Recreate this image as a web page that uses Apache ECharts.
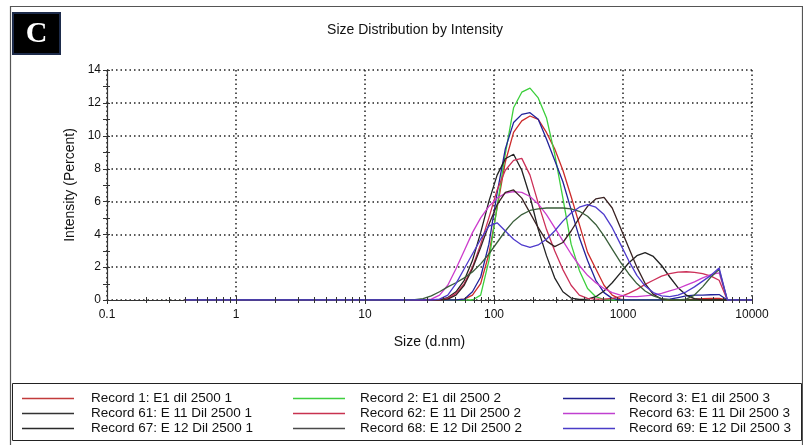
<!DOCTYPE html>
<html><head><meta charset="utf-8">
<script src="https://cdn.jsdelivr.net/npm/echarts@6/dist/echarts.min.js"></script>
<style>html,body{margin:0;padding:0;background:#fff}#c{width:803px;height:445px}</style>
</head><body><div id="c"></div>
<script>
// Malvern size bins (d.nm)
const sizes = [
  0.4, 0.4632, 0.5365, 0.6213, 0.7195, 0.8332, 0.9649, 1.117, 1.294, 1.499,
  1.736, 2.010, 2.328, 2.696, 3.122, 3.615, 4.187, 4.849, 5.615, 6.503,
  7.531, 8.721, 10.10, 11.70, 13.54, 15.69, 18.17, 21.04, 24.36, 28.21,
  32.67, 37.84, 43.82, 50.75, 58.77, 68.06, 78.82, 91.28, 105.7, 122.4,
  141.8, 164.2, 190.1, 220.2, 255.0, 295.3, 342.0, 396.1, 458.7, 531.2,
  615.1, 712.4, 825.0, 955.4, 1106, 1281, 1484, 1718, 1990, 2305,
  2669, 3091, 3580, 4145, 4801, 5560, 6439, 7456, 8635, 10000
];
const rec1 = [
  0,0,0,0,0,0,0,0,0,0, 0,0,0,0,0,0,0,0,0,0, 0,0,0,0,0,0,0,0,0,0,
  0,0,0,0,0.05,0.3,1.0,2.8,5.6,8.4,
  10.2,10.9,11.2,11.0,10.2,9.2,7.9,6.3,4.6,2.9,
  1.9,0.9,0.3,0.05,0,0,0,0,0,0,
  0,0.02,0.05,0.08,0.1,0.1,0,0,0,0
];
const rec2 = [
  0,0,0,0,0,0,0,0,0,0, 0,0,0,0,0,0,0,0,0,0, 0,0,0,0,0,0,0,0,0,0,
  0,0,0,0,0,0,0.3,2.4,5.7,8.9,
  11.7,12.65,12.9,12.3,11.1,8.9,6.2,3.4,1.8,0.7,
  0.2,0.03,0,0,0,0,0,0,0,0,
  0,0,0,0,0,0,0,0,0,0
];
const rec3 = [
  0,0,0,0,0,0,0,0,0,0, 0,0,0,0,0,0,0,0,0,0, 0,0,0,0,0,0,0,0,0,0,
  0,0,0,0,0.05,0.5,1.4,3.4,6.5,9.2,
  10.8,11.3,11.4,11.0,9.8,8.5,7.2,5.5,3.8,2.4,
  1.2,0.45,0.1,0,0,0,0,0,0,0.05,
  0.15,0.25,0.3,0.3,0.32,0.33,0,0,0,0
];
const rec61 = [
  0,0,0,0,0,0,0,0,0,0, 0,0,0,0,0,0,0,0,0,0, 0,0,0,0,0,0,0,0,0,0,
  0,0.02,0.15,0.5,1.2,2.4,4.1,6.0,7.6,8.6,
  8.87,7.9,6.3,4.3,2.7,1.35,0.5,0.12,0.03,0.05,
  0.2,0.55,1.05,1.65,2.25,2.7,2.88,2.65,2.1,1.4,
  0.75,0.3,0.08,0,0,0,0,0,0,0
];
const rec62 = [
  0,0,0,0,0,0,0,0,0,0, 0,0,0,0,0,0,0,0,0,0, 0,0,0,0,0,0,0,0,0,0,
  0,0,0.1,0.4,1.0,2.0,3.4,5.0,6.7,7.9,
  8.5,8.62,7.6,5.9,4.3,3.0,1.85,0.9,0.3,0.1,
  0.05,0.05,0.1,0.2,0.4,0.65,0.95,1.2,1.45,1.6,
  1.7,1.72,1.68,1.6,1.45,1.2,0,0,0,0
];
const rec63 = [
  0,0,0,0,0,0,0,0,0,0, 0,0,0,0,0,0,0,0,0,0, 0,0,0,0,0,0,0,0,0,0,
  0.05,0.3,0.9,1.9,3.0,4.1,5.0,5.7,6.2,6.5,
  6.6,6.55,6.3,5.85,5.2,4.4,3.6,2.8,2.1,1.5,
  1.05,0.7,0.45,0.3,0.2,0.2,0.25,0.3,0.4,0.55,
  0.7,0.9,1.1,1.35,1.55,1.65,0,0,0,0
];
const rec67 = [
  0,0,0,0,0,0,0,0,0,0, 0,0,0,0,0,0,0,0,0,0, 0,0,0,0,0,0,0,0,0,0,
  0,0,0.05,0.3,0.9,1.9,3.2,4.6,5.8,6.55,
  6.7,6.2,5.3,4.4,3.6,3.25,3.5,4.2,5.0,5.7,
  6.15,6.25,5.6,4.4,3.2,2.0,1.0,0.35,0.05,0,
  0,0,0,0,0,0,0,0,0,0
];
const rec68 = [
  0,0,0,0,0,0,0,0,0,0, 0,0,0,0,0,0,0,0,0,0, 0,0,0,0,0,0,0,0,0.02,0.08,
  0.25,0.5,0.8,1.05,1.35,1.7,2.2,2.8,3.5,4.2,
  4.8,5.2,5.45,5.55,5.6,5.6,5.6,5.55,5.4,5.1,
  4.6,3.9,3.1,2.3,1.6,1.0,0.55,0.25,0.08,0.02,
  0,0.05,0.3,0.8,1.4,1.85,0,0,0,0
];
const rec69 = [
  0,0,0,0,0,0,0,0,0,0, 0,0,0,0,0,0,0,0,0,0, 0,0,0,0,0,0,0,0,0,0,
  0,0.05,0.3,1.0,1.9,2.8,3.7,4.5,4.7,4.2,
  3.7,3.35,3.2,3.35,3.7,4.2,4.8,5.3,5.65,5.8,
  5.65,5.2,4.4,3.4,2.4,1.5,0.85,0.45,0.25,0.2,
  0.3,0.5,0.8,1.15,1.5,1.95,0,0,0,0
];
const seriesNames = [
  'Record 1: E1 dil 2500 1', 'Record 2: E1 dil 2500 2', 'Record 3: E1 dil 2500 3',
  'Record 61: E 11 Dil 2500 1', 'Record 62: E 11 Dil 2500 2', 'Record 63: E 11 Dil 2500 3',
  'Record 67: E 12 Dil 2500 1', 'Record 68: E 12 Dil 2500 2', 'Record 69: E 12 Dil 2500 3'
];
const seriesValues = [rec1, rec2, rec3, rec61, rec62, rec63, rec67, rec68, rec69];
const seriesColors = ['#cc2a2a', '#3ccf3c', '#22229a', '#222222', '#cc3058', '#cc3ccc', '#3a2222', '#3a5e3a', '#4e3acc'];
const legendColors = ['#c23b3b', '#3fcf3f', '#202090', '#333333', '#c8324f', '#c040d0', '#2a2a2a', '#4a4a4a', '#4a3cc8'];
const xDecades = [0.1, 1, 10, 100, 1000, 10000];
const yMin = 0, yMax = 14, yStep = 2;
const titleText = 'Size Distribution by Intensity';
const xName = 'Size (d.nm)';
const yName = 'Intensity (Percent)';

const font = '"Liberation Sans", Arial, sans-serif';
const chart = echarts.init(document.getElementById('c'));
const option = {
  animation: false,
  backgroundColor: '#fff',
  grid: { left: 107, right: 51, top: 70, bottom: 145 },
  xAxis: {
    type: 'log', logBase: 10, min: xDecades[0], max: xDecades[xDecades.length - 1],
    name: xName, nameLocation: 'middle', nameGap: 35,
    nameTextStyle: { fontSize: 14, color: '#111', fontFamily: font },
    axisLine: { lineStyle: { color: '#333', width: 1.2 } },
    axisTick: { show: false },
    axisLabel: { fontSize: 12, color: '#111', fontFamily: font, margin: 9,
      formatter: v => (v < 1 ? v.toFixed(1) : String(Math.round(v))) },
    splitLine: { show: true, lineStyle: { type: [1.5, 3], color: '#222', width: 1.5 } }
  },
  yAxis: {
    type: 'value', min: yMin, max: yMax, interval: yStep,
    name: yName, nameLocation: 'middle', nameGap: 29,
    nameTextStyle: { fontSize: 14, color: '#111', fontFamily: font },
    axisLine: { show: true, lineStyle: { color: '#333', width: 1.2 } },
    axisTick: { show: false },
    axisLabel: { fontSize: 12, color: '#111', fontFamily: font, margin: 6 },
    splitLine: { show: true, lineStyle: { type: [1.5, 3], color: '#222', width: 1.5 } }
  },
  series: seriesValues.map((vals, i) => ({
    type: 'line', name: seriesNames[i],
    data: sizes.map((s, k) => [s, vals[k]]),
    showSymbol: false, silent: true, smooth: false,
    lineStyle: { width: 1.3, color: seriesColors[i] },
    itemStyle: { color: seriesColors[i] }
  }))
};
chart.setOption(option);

// ticks (drawn through the chart's own scales), frame, title and legend
const g = [];
const y0 = chart.convertToPixel({ yAxisIndex: 0 }, 0);
const x0 = chart.convertToPixel({ xAxisIndex: 0 }, xDecades[0]);
for (let d = 0; d < xDecades.length; d++) {
  const dec = xDecades[d];
  const mults = d === xDecades.length - 1 ? [1] : [1, 2, 3, 4, 5, 6, 7, 8, 9];
  mults.forEach(m => {
    const px = Math.round(chart.convertToPixel({ xAxisIndex: 0 }, dec * m)) + 0.5;
    const h = m === 1 ? 4 : 3;
    g.push({ type: 'line', z: 100, silent: true,
      shape: { x1: px, y1: y0 - h, x2: px, y2: y0 + h },
      style: { stroke: '#333', lineWidth: 1 } });
  });
}
for (let v = yMin; v <= yMax; v++) {
  const py = Math.round(chart.convertToPixel({ yAxisIndex: 0 }, v)) + 0.5;
  g.push({ type: 'line', z: 100, silent: true,
    shape: { x1: x0 - 4, y1: py, x2: x0 + 3, y2: py },
    style: { stroke: '#333', lineWidth: 1 } });
}
// outer frame
g.push({ type: 'rect', z: 1, silent: true, shape: { x: 10.5, y: 6.5, width: 792, height: 450 },
  style: { fill: 'none', stroke: '#555', lineWidth: 1.2 } });
// panel letter
g.push({ type: 'rect', z: 50, silent: true, shape: { x: 13, y: 13, width: 47, height: 41 },
  style: { fill: '#000', stroke: '#1d2b4a', lineWidth: 2 } });
g.push({ type: 'text', z: 51, silent: true,
  style: { text: 'C', x: 36.5, y: 34.5, fill: '#fff', align: 'center', verticalAlign: 'middle',
    font: 'bold 30px "Liberation Serif", "DejaVu Serif", serif' } });
// title
g.push({ type: 'text', z: 51, silent: true,
  style: { text: titleText, x: 415, y: 30, fill: '#111', align: 'center', verticalAlign: 'middle',
    font: '14px ' + font } });
// legend
g.push({ type: 'rect', z: 50, silent: true, shape: { x: 12.5, y: 383.5, width: 789, height: 57 },
  style: { fill: '#fff', stroke: '#222', lineWidth: 1 } });
const colLineX = [22, 293, 563];
const colTextX = [91, 360, 629];
const rowY = [398, 413, 428];
seriesNames.forEach((nm, i) => {
  const col = i % 3, row = Math.floor(i / 3);
  const y = rowY[row] + 0.5;
  g.push({ type: 'line', z: 51, silent: true,
    shape: { x1: colLineX[col], y1: y, x2: colLineX[col] + 52, y2: y },
    style: { stroke: legendColors[i], lineWidth: 1.3 } });
  g.push({ type: 'text', z: 51, silent: true,
    style: { text: nm, x: colTextX[col], y: rowY[row], fill: '#111', align: 'left', verticalAlign: 'middle',
      font: '13.5px ' + font } });
});
chart.setOption({ graphic: { elements: g } });
</script>
</body></html>
